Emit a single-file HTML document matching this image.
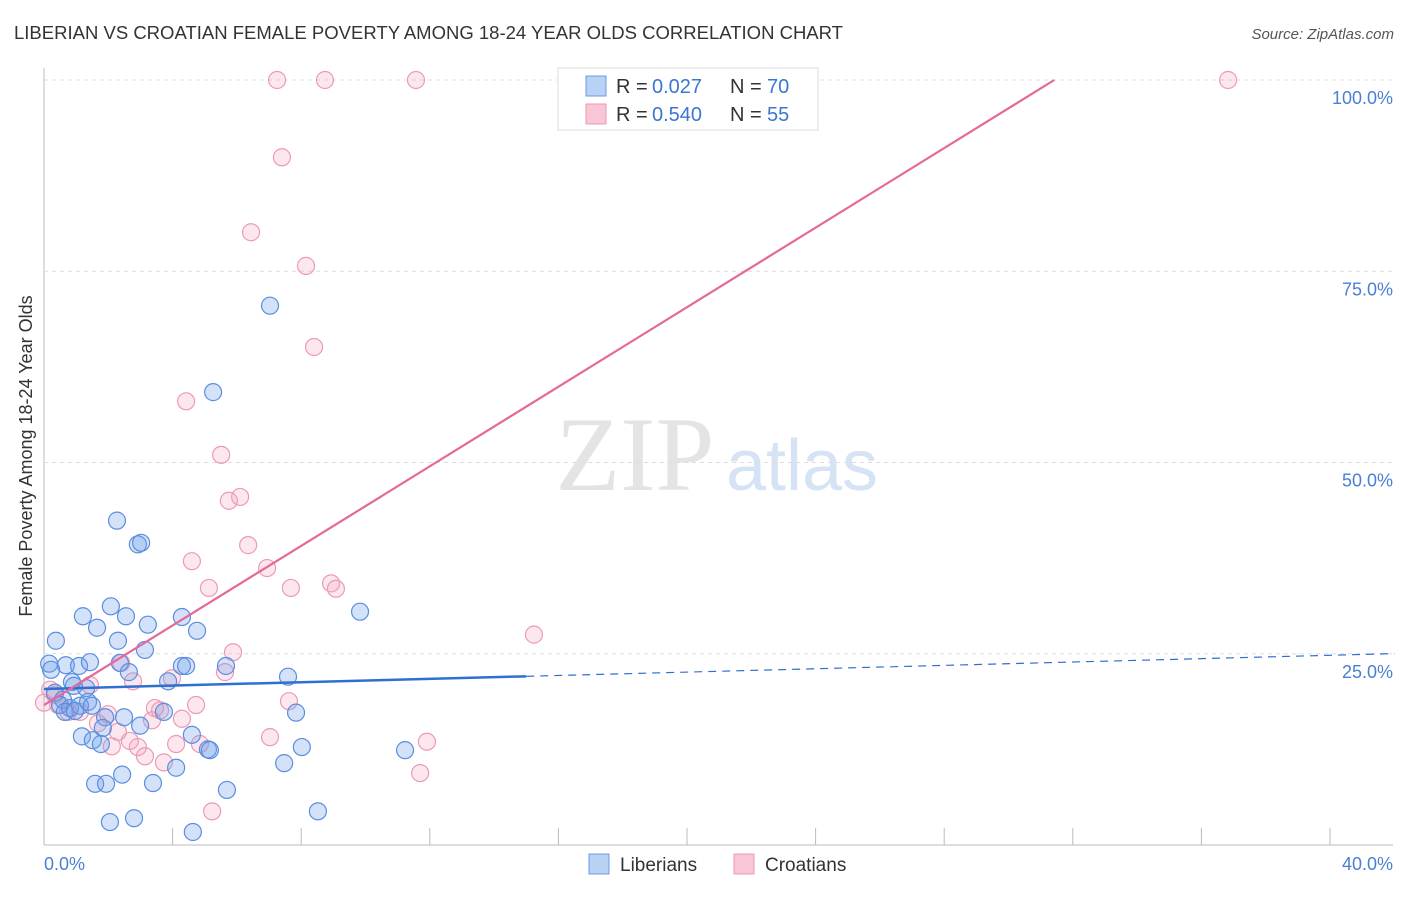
<!DOCTYPE html>
<html><head><meta charset="utf-8"><style>
body{margin:0;background:#fff;font-family:"Liberation Sans",sans-serif}
#c{position:relative;width:1406px;height:892px}
</style></head><body>
<div id="c">
<svg id="s" width="1406" height="892" xmlns="http://www.w3.org/2000/svg">
<text x="14" y="39" font-size="18" fill="#333" textLength="829" lengthAdjust="spacingAndGlyphs">LIBERIAN VS CROATIAN FEMALE POVERTY AMONG 18-24 YEAR OLDS CORRELATION CHART</text>
<text x="1394" y="39" font-size="15" fill="#555" text-anchor="end" font-style="italic">Source: ZipAtlas.com</text>
<text x="635" y="490" font-size="106" fill="#e4e4e4" font-family="Liberation Serif,serif" text-anchor="middle">ZIP</text>
<text x="802" y="490" font-size="72" fill="#d6e3f5" text-anchor="middle">atlas</text>
<text x="32" y="456" font-size="18" fill="#333" text-anchor="middle" transform="rotate(-90 32 456)">Female Poverty Among 18-24 Year Olds</text>
<g id="grid"></g><g id="pts"></g><g id="lines"></g>
<g>
<rect x="558" y="68" width="260" height="62" fill="#fff" stroke="#ddd"/>
<rect x="586" y="76" width="20" height="20" fill="#b8d2f6" stroke="#6b9be0"/>
<rect x="586" y="104" width="20" height="20" fill="#f9c6d6" stroke="#ec9ab5"/>
<text x="616" y="93" font-size="20" fill="#333">R =</text><text x="652" y="93" font-size="20" fill="#3b76d0">0.027</text>
<text x="730" y="93" font-size="20" fill="#333">N =</text><text x="767" y="93" font-size="20" fill="#3b76d0">70</text>
<text x="616" y="121" font-size="20" fill="#333">R =</text><text x="652" y="121" font-size="20" fill="#3b76d0">0.540</text>
<text x="730" y="121" font-size="20" fill="#333">N =</text><text x="767" y="121" font-size="20" fill="#3b76d0">55</text>
</g>
<g>
<rect x="589" y="854" width="20" height="20" fill="#b8d2f6" stroke="#6b9be0"/>
<text x="620" y="871" font-size="19" fill="#333">Liberians</text>
<rect x="734" y="854" width="20" height="20" fill="#f9c6d6" stroke="#ec9ab5"/>
<text x="765" y="871" font-size="19" fill="#333">Croatians</text>
</g>
</svg></div>
<script>
const blueX=[7.03,5.26,2.27,2.92,3.02,9.83,1.21,2.08,2.55,1.65,3.23,4.29,4.76,0.37,2.30,3.14,0.16,0.22,0.68,1.09,1.43,2.36,2.64,4.29,4.42,5.66,3.86,7.59,0.87,0.93,1.31,0.34,0.59,1.37,0.5,0.81,1.12,1.49,0.65,0.96,1.90,2.49,3.73,7.84,2.99,1.83,1.18,4.60,1.52,1.77,5.10,5.16,8.02,11.23,4.11,7.47,2.43,1.59,1.93,3.39,5.69,8.52,2.05,2.80,4.63];
const blueY=[70.5,59.2,42.4,39.3,39.5,30.5,29.9,31.2,29.9,28.4,28.8,29.8,28.0,26.7,26.7,25.5,23.7,22.9,23.5,23.4,23.9,23.8,22.6,23.4,23.4,23.4,21.4,22.0,21.3,20.8,20.5,19.9,19.0,18.7,18.3,17.9,18.2,18.2,17.4,17.5,16.7,16.7,17.4,17.3,15.6,15.3,14.2,14.4,13.7,13.2,12.5,12.4,12.8,12.4,10.1,10.7,9.2,8.0,8.0,8.1,7.2,4.4,3.0,3.5,1.7];
const pinkX=[7.25,8.74,11.57,36.83,7.40,6.44,8.15,8.40,4.42,5.51,6.10,5.75,6.35,4.60,6.94,5.13,7.68,8.93,9.08,15.24,5.88,2.40,5.63,2.77,1.43,3.98,0.19,0.34,7.62,4.73,0.44,0.75,1.12,3.45,3.61,1.99,4.29,3.36,1.68,2.30,7.03,2.67,4.11,4.85,11.91,2.11,2.92,3.14,3.73,11.70,5.23,0];
const pinkY=[100,100,100,100,89.9,80.1,75.7,65.1,58.0,51.0,45.5,45.0,39.2,37.1,36.2,33.6,33.6,34.2,33.5,27.5,25.2,23.8,22.6,21.4,20.9,21.8,20.3,19.6,18.8,18.3,18.3,17.4,17.4,17.9,17.6,17.1,16.5,16.3,15.9,14.8,14.1,13.6,13.2,13.2,13.5,12.9,12.8,11.6,10.8,9.4,4.4,18.6];
const yTicks=[25,50,75,100];
const xTickLabels=["0.0%","40.0%"];
const blueFit=[20.4,0.11], pinkFit=[18.3,2.6];
const NS="http://www.w3.org/2000/svg";
const X=v=>44+v*32.15, Y=v=>845-v*7.65;
function mk(t,a,p){const e=document.createElementNS(NS,t);for(const k in a)e.setAttribute(k,a[k]);p.appendChild(e);return e;}
const s=document.getElementById('s'),g=document.getElementById('grid'),P=document.getElementById('pts'),L=document.getElementById('lines');
mk('line',{x1:44,y1:68,x2:44,y2:845,stroke:'#bbb'},g);
mk('line',{x1:44,y1:845,x2:1393,y2:845,stroke:'#bbb'},g);
for(let i=0;i<=10;i++){const l=mk('line',{x1:X(i*4),y1:828,x2:X(i*4),y2:845,stroke:'#bbb'},g);}
yTicks.forEach(t=>{const l=mk('line',{x1:44,y1:Y(t),x2:1393,y2:Y(t),stroke:'#ddd','stroke-dasharray':'4 4'},g);
const tx=mk('text',{x:1393,y:Y(t)+24,'font-size':18,fill:'#4a7fd4','text-anchor':'end'},g);tx.textContent=t.toFixed(1)+'%';});
[[44,'start'],[1393,'end']].forEach((d,i)=>{const tx=mk('text',{x:d[0],y:870,'font-size':18,fill:'#4a7fd4','text-anchor':d[1]},g);tx.textContent=xTickLabels[i];});
pinkX.forEach((x,i)=>{const c=mk('circle',{cx:X(x),cy:Y(pinkY[i]),r:8.5,fill:'rgba(244,160,190,0.25)',stroke:'#ec9ab5','stroke-width':1.2},P);});
blueX.forEach((x,i)=>{const c=mk('circle',{cx:X(x),cy:Y(blueY[i]),r:8.5,fill:'rgba(110,160,235,0.3)',stroke:'#5b8ee0','stroke-width':1.2},P);});
const b=v=>blueFit[0]+blueFit[1]*v, p=v=>pinkFit[0]+pinkFit[1]*v;
let l=mk('line',{x1:X(0),y1:Y(b(0)),x2:X(15),y2:Y(b(15)),stroke:'#2f6fd0','stroke-width':2.5},L);
l=mk('line',{x1:X(15),y1:Y(b(15)),x2:X(42),y2:Y(b(42)),stroke:'#2f6fd0','stroke-width':1.2,'stroke-dasharray':'8 6'},L);
const xe=(100-pinkFit[0])/pinkFit[1];
l=mk('line',{x1:X(0),y1:Y(p(0)),x2:X(xe),y2:Y(100),stroke:'#e5689a','stroke-width':2.2},L);
</script>
</body></html>
